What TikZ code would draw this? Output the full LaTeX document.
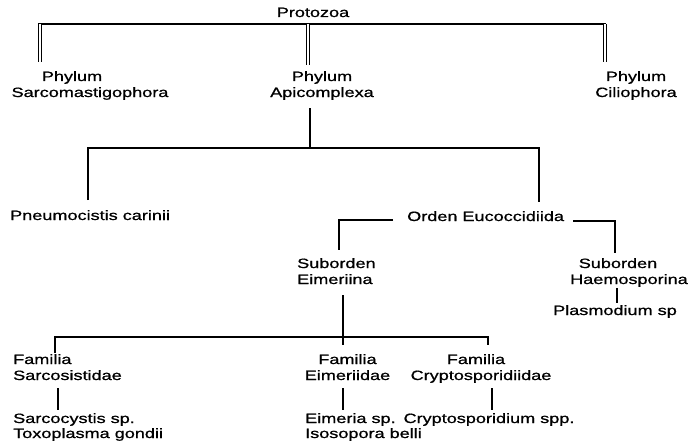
\documentclass[tikz,border=0pt]{standalone}
\usepackage{fontspec}
\setmainfont[FakeStretch=1.34,FakeBold=0.9]{Liberation Sans}
\begin{document}
\begin{tikzpicture}[x=1pt,y=-1pt,
  lbl/.style={inner sep=0pt,anchor=base,font=\fontsize{13.5}{16}\selectfont},
  lbll/.style={inner sep=0pt,anchor=base west,font=\fontsize{13.5}{16}\selectfont},
  conn/.style={line width=1.2pt,black},
  topbar/.style={line width=2.4pt,black},
  dbl/.style={double,double distance=1.7pt,line width=0.9pt,black}]
\useasboundingbox (0,0) rectangle (693,444);
% texts
\node[lbl] (proto) at (313,17) {Protozoa};
\node[lbl] (phyL) at (72,81) {Phylum};
\node[lbl] (sarcom) at (90,97) {Sarcomastigophora};
\node[lbl] (phyM) at (322,81) {Phylum};
\node[lbl] (apic) at (322,97) {Apicomplexa};
\node[lbl] (phyR) at (636,81) {Phylum};
\node[lbl] (cilio) at (636,97) {Ciliophora};
\node[lbll] (pneumo) at (10,220) {Pneumocistis carinii};
\node[lbll] (orden) at (407,221) {Orden Eucoccidiida};
\node[lbll] (subE1) at (297,268) {Suborden};
\node[lbll] (subE2) at (297,284) {Eimeriina};
\node[lbl] (subH1) at (618,268) {Suborden};
\node[lbl] (subH2) at (629,284) {Haemosporina};
\node[lbl] (plasmo) at (615,315) {Plasmodium sp};
\node[lbll] (famS1) at (13,364) {Familia};
\node[lbll] (famS2) at (13,380) {Sarcosistidae};
\node[lbl] (famE1) at (347.5,364) {Familia};
\node[lbl] (famE2) at (347.5,380) {Eimeriidae};
\node[lbl] (famC1) at (476,364) {Familia};
\node[lbl] (famC2) at (481,380) {Cryptosporidiidae};
\node[lbll] (sarcoc) at (13,423) {Sarcocystis sp.};
\node[lbll] (toxo) at (13,438) {Toxoplasma gondii};
\node[lbll] (eimer) at (305,423) {Eimeria sp.};
\node[lbll] (isos) at (305,438) {Isosopora belli};
\node[lbl] (crypto) at (489,423) {Cryptosporidium spp.};
% junction coordinates
\coordinate (t0) at (38,24); \coordinate (t1) at (606,24);
\coordinate (tL) at (40,24); \coordinate (tLb) at (40,62);
\coordinate (tM) at (308,24); \coordinate (tMb) at (308,65);
\coordinate (tR) at (605,24); \coordinate (tRb) at (605,62);
\coordinate (a0) at (310,108); \coordinate (a1) at (310,148);
\coordinate (h0) at (88,148); \coordinate (h1) at (539,148);
\coordinate (pn) at (88,200); \coordinate (or) at (539,202);
\coordinate (o0) at (393,220); \coordinate (o1) at (339,220); \coordinate (o2) at (339,250);
\coordinate (o3) at (573,221); \coordinate (o4) at (615,221); \coordinate (o5) at (615,253);
\coordinate (hm0) at (617,288); \coordinate (hm1) at (617,303);
\coordinate (e0) at (343,295); \coordinate (e1) at (343,345);
\coordinate (f0) at (55,337); \coordinate (f1) at (488,337);
\coordinate (fs) at (55,353); \coordinate (fc) at (488,345);
\coordinate (s0) at (58,388); \coordinate (s1) at (58,410);
\coordinate (m0) at (343,388); \coordinate (m1) at (343,410);
\coordinate (c0) at (492,388); \coordinate (c1) at (492,410);
% connectors
\draw[topbar] (t0) -- (t1);
\draw[dbl] (tL) -- (tLb);
\draw[dbl] (tM) -- (tMb);
\draw[dbl] (tR) -- (tRb);
\draw[conn] (a0) -- (a1);
\draw[conn] (pn) -- (h0) -- (h1) -- (or);
\draw[conn] (o0) -- (o1) -- (o2);
\draw[conn] (o3) -- (o4) -- (o5);
\draw[conn] (hm0) -- (hm1);
\draw[conn] (e0) -- (e1);
\draw[conn] (fs) -- (f0) -- (f1) -- (fc);
\draw[conn] (s0) -- (s1);
\draw[conn] (m0) -- (m1);
\draw[conn] (c0) -- (c1);
\end{tikzpicture}
\end{document}
